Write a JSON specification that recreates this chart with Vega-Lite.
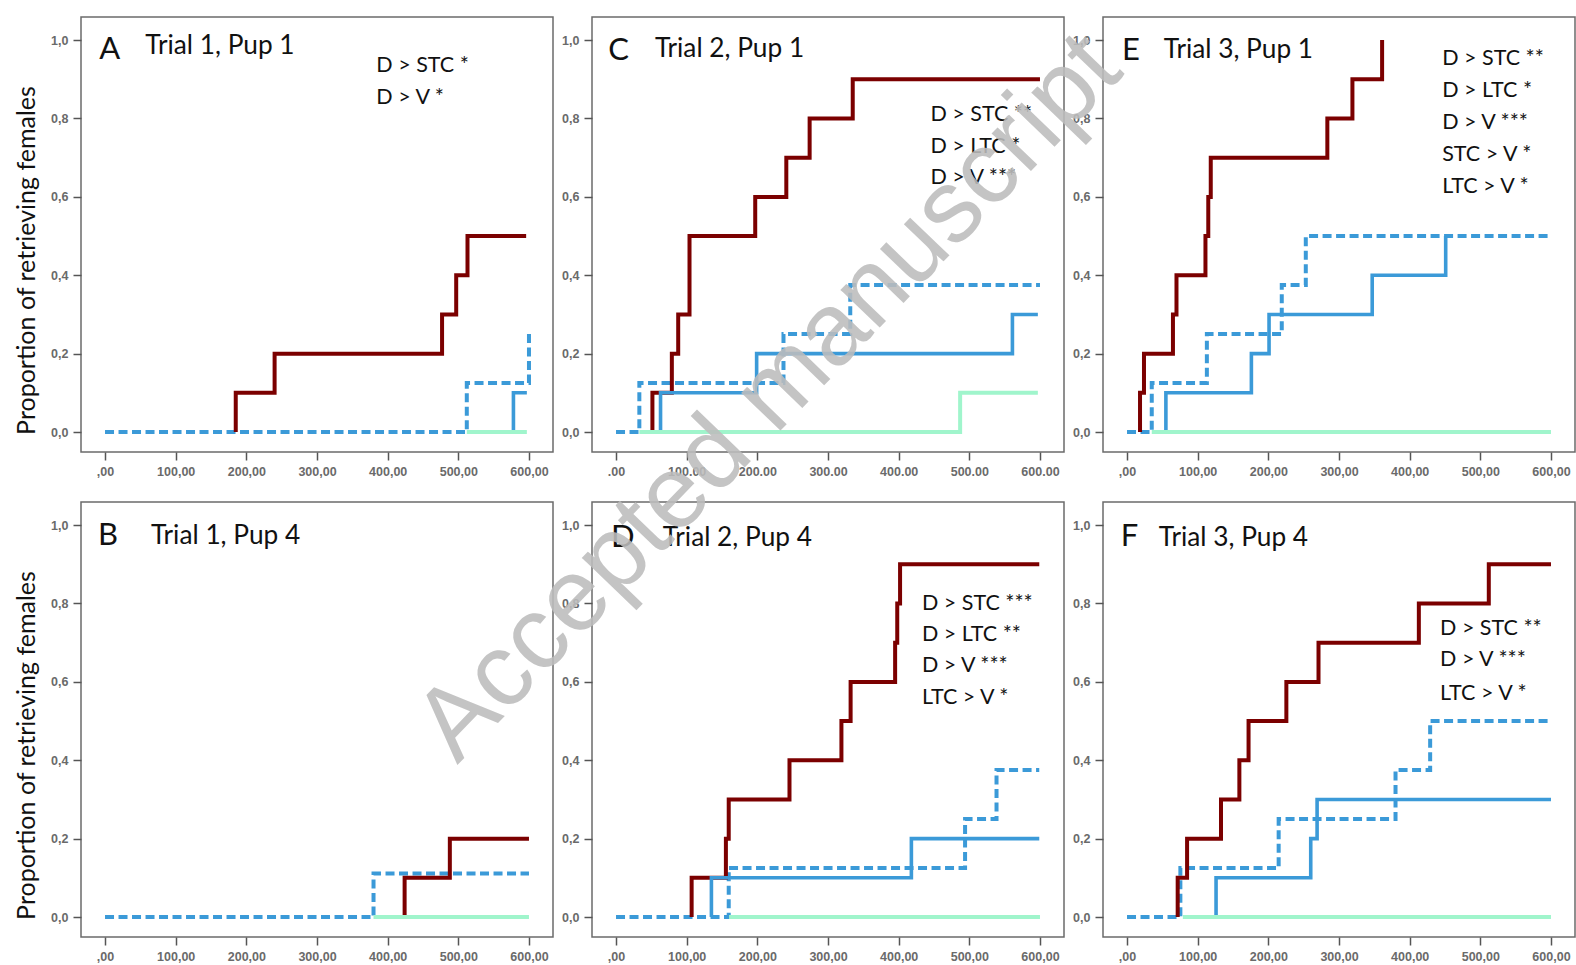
{
  "$schema": "https://vega.github.io/schema/vega-lite/v6.json",
  "padding": {"left": 13, "top": 15, "right": 0, "bottom": 0},
  "background": "white",
  "datasets": {
    "curves": [
      {"panel": "A", "group": "STC", "i": 0, "t": 0, "p": 0},
      {"panel": "A", "group": "STC", "i": 1, "t": 512, "p": 0.125},
      {"panel": "A", "group": "STC", "i": 2, "t": 600, "p": 0.25},
      {"panel": "A", "group": "D", "i": 0, "t": 185, "p": 0},
      {"panel": "A", "group": "D", "i": 1, "t": 185, "p": 0.1},
      {"panel": "A", "group": "D", "i": 2, "t": 240, "p": 0.2},
      {"panel": "A", "group": "D", "i": 3, "t": 477, "p": 0.3},
      {"panel": "A", "group": "D", "i": 4, "t": 497, "p": 0.4},
      {"panel": "A", "group": "D", "i": 5, "t": 513, "p": 0.5},
      {"panel": "A", "group": "D", "i": 6, "t": 596, "p": 0.5},
      {"panel": "A", "group": "LTC", "i": 0, "t": 578, "p": 0},
      {"panel": "A", "group": "LTC", "i": 1, "t": 578, "p": 0.1},
      {"panel": "A", "group": "LTC", "i": 2, "t": 597, "p": 0.1},
      {"panel": "A", "group": "V", "i": 0, "t": 512, "p": 0},
      {"panel": "A", "group": "V", "i": 1, "t": 597, "p": 0},

      {"panel": "C", "group": "STC", "i": 0, "t": 0, "p": 0},
      {"panel": "C", "group": "STC", "i": 1, "t": 33, "p": 0.125},
      {"panel": "C", "group": "STC", "i": 2, "t": 237, "p": 0.25},
      {"panel": "C", "group": "STC", "i": 3, "t": 331.5, "p": 0.375},
      {"panel": "C", "group": "STC", "i": 4, "t": 600, "p": 0.375},
      {"panel": "C", "group": "D", "i": 0, "t": 51.5, "p": 0},
      {"panel": "C", "group": "D", "i": 1, "t": 51.5, "p": 0.1},
      {"panel": "C", "group": "D", "i": 2, "t": 79, "p": 0.2},
      {"panel": "C", "group": "D", "i": 3, "t": 88, "p": 0.3},
      {"panel": "C", "group": "D", "i": 4, "t": 104, "p": 0.5},
      {"panel": "C", "group": "D", "i": 5, "t": 197, "p": 0.6},
      {"panel": "C", "group": "D", "i": 6, "t": 241, "p": 0.7},
      {"panel": "C", "group": "D", "i": 7, "t": 274, "p": 0.8},
      {"panel": "C", "group": "D", "i": 8, "t": 335, "p": 0.9},
      {"panel": "C", "group": "D", "i": 9, "t": 600, "p": 0.9},
      {"panel": "C", "group": "LTC", "i": 0, "t": 63, "p": 0},
      {"panel": "C", "group": "LTC", "i": 1, "t": 63, "p": 0.1},
      {"panel": "C", "group": "LTC", "i": 2, "t": 199, "p": 0.2},
      {"panel": "C", "group": "LTC", "i": 3, "t": 561, "p": 0.3},
      {"panel": "C", "group": "LTC", "i": 4, "t": 597, "p": 0.3},
      {"panel": "C", "group": "V", "i": 0, "t": 33, "p": 0},
      {"panel": "C", "group": "V", "i": 1, "t": 487, "p": 0.1},
      {"panel": "C", "group": "V", "i": 2, "t": 597, "p": 0.1},

      {"panel": "E", "group": "STC", "i": 0, "t": 0, "p": 0},
      {"panel": "E", "group": "STC", "i": 1, "t": 35, "p": 0.125},
      {"panel": "E", "group": "STC", "i": 2, "t": 113, "p": 0.25},
      {"panel": "E", "group": "STC", "i": 3, "t": 219, "p": 0.375},
      {"panel": "E", "group": "STC", "i": 4, "t": 253, "p": 0.5},
      {"panel": "E", "group": "STC", "i": 5, "t": 600, "p": 0.5},
      {"panel": "E", "group": "D", "i": 0, "t": 18.4, "p": 0},
      {"panel": "E", "group": "D", "i": 1, "t": 18.4, "p": 0.1},
      {"panel": "E", "group": "D", "i": 2, "t": 24, "p": 0.2},
      {"panel": "E", "group": "D", "i": 3, "t": 65, "p": 0.3},
      {"panel": "E", "group": "D", "i": 4, "t": 70, "p": 0.4},
      {"panel": "E", "group": "D", "i": 5, "t": 111, "p": 0.5},
      {"panel": "E", "group": "D", "i": 6, "t": 115, "p": 0.6},
      {"panel": "E", "group": "D", "i": 7, "t": 118.5, "p": 0.7},
      {"panel": "E", "group": "D", "i": 8, "t": 283.5, "p": 0.8},
      {"panel": "E", "group": "D", "i": 9, "t": 319, "p": 0.9},
      {"panel": "E", "group": "D", "i": 10, "t": 361, "p": 1.0},
      {"panel": "E", "group": "LTC", "i": 0, "t": 55, "p": 0},
      {"panel": "E", "group": "LTC", "i": 1, "t": 55, "p": 0.1},
      {"panel": "E", "group": "LTC", "i": 2, "t": 176, "p": 0.2},
      {"panel": "E", "group": "LTC", "i": 3, "t": 201, "p": 0.3},
      {"panel": "E", "group": "LTC", "i": 4, "t": 347, "p": 0.4},
      {"panel": "E", "group": "LTC", "i": 5, "t": 451, "p": 0.5},
      {"panel": "E", "group": "V", "i": 0, "t": 35, "p": 0},
      {"panel": "E", "group": "V", "i": 1, "t": 600, "p": 0},

      {"panel": "B", "group": "STC", "i": 0, "t": 0, "p": 0},
      {"panel": "B", "group": "STC", "i": 1, "t": 380, "p": 0.111},
      {"panel": "B", "group": "STC", "i": 2, "t": 600, "p": 0.111},
      {"panel": "B", "group": "D", "i": 0, "t": 424, "p": 0},
      {"panel": "B", "group": "D", "i": 1, "t": 424, "p": 0.1},
      {"panel": "B", "group": "D", "i": 2, "t": 488, "p": 0.2},
      {"panel": "B", "group": "D", "i": 3, "t": 600, "p": 0.2},
      {"panel": "B", "group": "V", "i": 0, "t": 380, "p": 0},
      {"panel": "B", "group": "V", "i": 1, "t": 600, "p": 0},

      {"panel": "D", "group": "STC", "i": 0, "t": 0, "p": 0},
      {"panel": "D", "group": "STC", "i": 1, "t": 159.5, "p": 0.125},
      {"panel": "D", "group": "STC", "i": 2, "t": 494, "p": 0.25},
      {"panel": "D", "group": "STC", "i": 3, "t": 538.5, "p": 0.375},
      {"panel": "D", "group": "STC", "i": 4, "t": 599, "p": 0.375},
      {"panel": "D", "group": "D", "i": 0, "t": 107, "p": 0},
      {"panel": "D", "group": "D", "i": 1, "t": 107, "p": 0.1},
      {"panel": "D", "group": "D", "i": 2, "t": 155.5, "p": 0.2},
      {"panel": "D", "group": "D", "i": 3, "t": 159.5, "p": 0.3},
      {"panel": "D", "group": "D", "i": 4, "t": 245.5, "p": 0.4},
      {"panel": "D", "group": "D", "i": 5, "t": 319, "p": 0.5},
      {"panel": "D", "group": "D", "i": 6, "t": 332, "p": 0.6},
      {"panel": "D", "group": "D", "i": 7, "t": 395, "p": 0.7},
      {"panel": "D", "group": "D", "i": 8, "t": 398, "p": 0.8},
      {"panel": "D", "group": "D", "i": 9, "t": 402, "p": 0.9},
      {"panel": "D", "group": "D", "i": 10, "t": 599, "p": 0.9},
      {"panel": "D", "group": "LTC", "i": 0, "t": 135, "p": 0},
      {"panel": "D", "group": "LTC", "i": 1, "t": 135, "p": 0.1},
      {"panel": "D", "group": "LTC", "i": 2, "t": 418, "p": 0.2},
      {"panel": "D", "group": "LTC", "i": 3, "t": 599, "p": 0.2},
      {"panel": "D", "group": "V", "i": 0, "t": 160, "p": 0},
      {"panel": "D", "group": "V", "i": 1, "t": 600, "p": 0},

      {"panel": "F", "group": "STC", "i": 0, "t": 0, "p": 0},
      {"panel": "F", "group": "STC", "i": 1, "t": 75.5, "p": 0.125},
      {"panel": "F", "group": "STC", "i": 2, "t": 214.6, "p": 0.25},
      {"panel": "F", "group": "STC", "i": 3, "t": 380, "p": 0.375},
      {"panel": "F", "group": "STC", "i": 4, "t": 429, "p": 0.5},
      {"panel": "F", "group": "STC", "i": 5, "t": 600, "p": 0.5},
      {"panel": "F", "group": "D", "i": 0, "t": 71.7, "p": 0},
      {"panel": "F", "group": "D", "i": 1, "t": 71.7, "p": 0.1},
      {"panel": "F", "group": "D", "i": 2, "t": 85, "p": 0.2},
      {"panel": "F", "group": "D", "i": 3, "t": 133, "p": 0.3},
      {"panel": "F", "group": "D", "i": 4, "t": 159, "p": 0.4},
      {"panel": "F", "group": "D", "i": 5, "t": 172, "p": 0.5},
      {"panel": "F", "group": "D", "i": 6, "t": 225.5, "p": 0.6},
      {"panel": "F", "group": "D", "i": 7, "t": 271, "p": 0.7},
      {"panel": "F", "group": "D", "i": 8, "t": 413, "p": 0.8},
      {"panel": "F", "group": "D", "i": 9, "t": 512, "p": 0.9},
      {"panel": "F", "group": "D", "i": 10, "t": 600, "p": 0.9},
      {"panel": "F", "group": "LTC", "i": 0, "t": 126, "p": 0},
      {"panel": "F", "group": "LTC", "i": 1, "t": 126, "p": 0.1},
      {"panel": "F", "group": "LTC", "i": 2, "t": 260, "p": 0.2},
      {"panel": "F", "group": "LTC", "i": 3, "t": 269, "p": 0.3},
      {"panel": "F", "group": "LTC", "i": 4, "t": 600, "p": 0.3},
      {"panel": "F", "group": "V", "i": 0, "t": 79, "p": 0},
      {"panel": "F", "group": "V", "i": 1, "t": 600, "p": 0}
    ],
    "notes": [
      {"panel": "A", "kind": "letter", "label": "A", "t": -8, "p": 0.952},
      {"panel": "A", "kind": "title", "label": "Trial 1, Pup 1", "t": 57, "p": 0.964},
      {"panel": "A", "kind": "note", "label": "D > STC *", "t": 384, "p": 0.918},
      {"panel": "A", "kind": "note", "label": "D > V *", "t": 384, "p": 0.837},

      {"panel": "C", "kind": "letter", "label": "C", "t": -11, "p": 0.95},
      {"panel": "C", "kind": "title", "label": "Trial 2, Pup 1", "t": 55, "p": 0.958},
      {"panel": "C", "kind": "note", "label": "D > STC **", "t": 445, "p": 0.793},
      {"panel": "C", "kind": "note", "label": "D > LTC *", "t": 445, "p": 0.712},
      {"panel": "C", "kind": "note", "label": "D > V ***", "t": 445, "p": 0.632},

      {"panel": "E", "kind": "letter", "label": "E", "t": -7, "p": 0.949},
      {"panel": "E", "kind": "title", "label": "Trial 3, Pup 1", "t": 52, "p": 0.955},
      {"panel": "E", "kind": "note", "label": "D > STC **", "t": 446, "p": 0.936},
      {"panel": "E", "kind": "note", "label": "D > LTC *", "t": 446, "p": 0.856},
      {"panel": "E", "kind": "note", "label": "D > V ***", "t": 446, "p": 0.772},
      {"panel": "E", "kind": "note", "label": "STC > V *", "t": 446, "p": 0.692},
      {"panel": "E", "kind": "note", "label": "LTC > V *", "t": 446, "p": 0.611},

      {"panel": "B", "kind": "letter", "label": "B", "t": -10, "p": 0.949},
      {"panel": "B", "kind": "title", "label": "Trial 1, Pup 4", "t": 65, "p": 0.951},

      {"panel": "D", "kind": "letter", "label": "D", "t": -7, "p": 0.945},
      {"panel": "D", "kind": "title", "label": "Trial 2, Pup 4", "t": 66, "p": 0.947},
      {"panel": "D", "kind": "note", "label": "D > STC ***", "t": 433, "p": 0.784},
      {"panel": "D", "kind": "note", "label": "D > LTC **", "t": 433, "p": 0.704},
      {"panel": "D", "kind": "note", "label": "D > V ***", "t": 433, "p": 0.624},
      {"panel": "D", "kind": "note", "label": "LTC > V *", "t": 433, "p": 0.543},

      {"panel": "F", "kind": "letter", "label": "F", "t": -9, "p": 0.947},
      {"panel": "F", "kind": "title", "label": "Trial 3, Pup 4", "t": 45, "p": 0.946},
      {"panel": "F", "kind": "note", "label": "D > STC **", "t": 443, "p": 0.72},
      {"panel": "F", "kind": "note", "label": "D > V ***", "t": 443, "p": 0.64},
      {"panel": "F", "kind": "note", "label": "LTC > V *", "t": 443, "p": 0.555}
    ],
    "stamp": [
      {"label": "Accepted manuscript", "t": 248, "p": 1.27}
    ]
  },
  "columns": 3,
  "spacing": {"row": 50, "column": 39},
  "bounds": "flush",
  "concat": [
    {
      "width": 472, "height": 435,
      "encoding": {
        "x": {"field": "t", "type": "quantitative", "scale": {"domain": [-34, 634], "nice": false, "zero": false},
              "axis": {"title": null, "values": [0, 100, 200, 300, 400, 500, 600], "labelExpr": "datum.value === 0 ? ',00' : replace(format(datum.value, '.2f'), '.', ',')"}},
        "y": {"field": "p", "type": "quantitative", "scale": {"domain": [-0.051, 1.059], "nice": false, "zero": false},
              "axis": {"title": "Proportion of retrieving females", "titleY": 243, "values": [0, 0.2, 0.4, 0.6, 0.8, 1], "labelExpr": "replace(format(datum.value, '.1f'), '.', ',')"}}
      },
      "layer": [
        {"data": {"name": "curves"}, "transform": [{"filter": "datum.panel === 'A' && datum.group === 'STC'"}],
         "mark": {"type": "line", "interpolate": "step-after", "color": "#3b9ad8", "strokeWidth": 4, "strokeDash": [9, 4.5]},
         "encoding": {"order": {"field": "i", "type": "quantitative"}}},
        {"data": {"name": "curves"}, "transform": [{"filter": "datum.panel === 'A' && datum.group === 'D'"}],
         "mark": {"type": "line", "interpolate": "step-after", "color": "#7b0000", "strokeWidth": 4},
         "encoding": {"order": {"field": "i", "type": "quantitative"}}},
        {"data": {"name": "curves"}, "transform": [{"filter": "datum.panel === 'A' && datum.group === 'LTC'"}],
         "mark": {"type": "line", "interpolate": "step-after", "color": "#3b9ad8", "strokeWidth": 3.6},
         "encoding": {"order": {"field": "i", "type": "quantitative"}}},
        {"data": {"name": "curves"}, "transform": [{"filter": "datum.panel === 'A' && datum.group === 'V'"}],
         "mark": {"type": "line", "interpolate": "step-after", "color": "#a0f5cc", "strokeWidth": 4},
         "encoding": {"order": {"field": "i", "type": "quantitative"}}},
        {"data": {"name": "notes"}, "transform": [{"filter": "datum.panel === 'A'"}],
         "mark": {"type": "text", "align": "left", "baseline": "alphabetic", "font": "Lato", "color": "#111"},
         "encoding": {"text": {"field": "label"}, "size": {"field": "kind", "type": "ordinal", "scale": {"domain": ["letter", "title", "note"], "range": [31, 21.5, 24]}, "legend": null}}}
      ]
    },
    {
      "width": 472, "height": 435,
      "encoding": {
        "x": {"field": "t", "type": "quantitative", "scale": {"domain": [-34, 634], "nice": false, "zero": false},
              "axis": {"title": null, "values": [0, 100, 200, 300, 400, 500, 600], "labelExpr": "datum.value === 0 ? '.00' : format(datum.value, '.2f')"}},
        "y": {"field": "p", "type": "quantitative", "scale": {"domain": [-0.051, 1.059], "nice": false, "zero": false},
              "axis": {"title": null, "values": [0, 0.2, 0.4, 0.6, 0.8, 1], "labelExpr": "replace(format(datum.value, '.1f'), '.', ',')"}}
      },
      "layer": [
        {"data": {"name": "curves"}, "transform": [{"filter": "datum.panel === 'C' && datum.group === 'STC'"}],
         "mark": {"type": "line", "interpolate": "step-after", "color": "#3b9ad8", "strokeWidth": 4, "strokeDash": [9, 4.5]},
         "encoding": {"order": {"field": "i", "type": "quantitative"}}},
        {"data": {"name": "curves"}, "transform": [{"filter": "datum.panel === 'C' && datum.group === 'D'"}],
         "mark": {"type": "line", "interpolate": "step-after", "color": "#7b0000", "strokeWidth": 4},
         "encoding": {"order": {"field": "i", "type": "quantitative"}}},
        {"data": {"name": "curves"}, "transform": [{"filter": "datum.panel === 'C' && datum.group === 'LTC'"}],
         "mark": {"type": "line", "interpolate": "step-after", "color": "#3b9ad8", "strokeWidth": 3.6},
         "encoding": {"order": {"field": "i", "type": "quantitative"}}},
        {"data": {"name": "curves"}, "transform": [{"filter": "datum.panel === 'C' && datum.group === 'V'"}],
         "mark": {"type": "line", "interpolate": "step-after", "color": "#a0f5cc", "strokeWidth": 4},
         "encoding": {"order": {"field": "i", "type": "quantitative"}}},
        {"data": {"name": "notes"}, "transform": [{"filter": "datum.panel === 'C'"}],
         "mark": {"type": "text", "align": "left", "baseline": "alphabetic", "font": "Lato", "color": "#111"},
         "encoding": {"text": {"field": "label"}, "size": {"field": "kind", "type": "ordinal", "scale": {"domain": ["letter", "title", "note"], "range": [31, 21.5, 24]}, "legend": null}}}
      ]
    },
    {
      "width": 472, "height": 435,
      "encoding": {
        "x": {"field": "t", "type": "quantitative", "scale": {"domain": [-34, 634], "nice": false, "zero": false},
              "axis": {"title": null, "values": [0, 100, 200, 300, 400, 500, 600], "labelExpr": "datum.value === 0 ? ',00' : replace(format(datum.value, '.2f'), '.', ',')"}},
        "y": {"field": "p", "type": "quantitative", "scale": {"domain": [-0.051, 1.059], "nice": false, "zero": false},
              "axis": {"title": null, "values": [0, 0.2, 0.4, 0.6, 0.8, 1], "labelExpr": "replace(format(datum.value, '.1f'), '.', ',')"}}
      },
      "layer": [
        {"data": {"name": "curves"}, "transform": [{"filter": "datum.panel === 'E' && datum.group === 'STC'"}],
         "mark": {"type": "line", "interpolate": "step-after", "color": "#3b9ad8", "strokeWidth": 4, "strokeDash": [9, 4.5]},
         "encoding": {"order": {"field": "i", "type": "quantitative"}}},
        {"data": {"name": "curves"}, "transform": [{"filter": "datum.panel === 'E' && datum.group === 'D'"}],
         "mark": {"type": "line", "interpolate": "step-after", "color": "#7b0000", "strokeWidth": 4},
         "encoding": {"order": {"field": "i", "type": "quantitative"}}},
        {"data": {"name": "curves"}, "transform": [{"filter": "datum.panel === 'E' && datum.group === 'LTC'"}],
         "mark": {"type": "line", "interpolate": "step-after", "color": "#3b9ad8", "strokeWidth": 3.6},
         "encoding": {"order": {"field": "i", "type": "quantitative"}}},
        {"data": {"name": "curves"}, "transform": [{"filter": "datum.panel === 'E' && datum.group === 'V'"}],
         "mark": {"type": "line", "interpolate": "step-after", "color": "#a0f5cc", "strokeWidth": 4},
         "encoding": {"order": {"field": "i", "type": "quantitative"}}},
        {"data": {"name": "notes"}, "transform": [{"filter": "datum.panel === 'E'"}],
         "mark": {"type": "text", "align": "left", "baseline": "alphabetic", "font": "Lato", "color": "#111"},
         "encoding": {"text": {"field": "label"}, "size": {"field": "kind", "type": "ordinal", "scale": {"domain": ["letter", "title", "note"], "range": [31, 21.5, 24]}, "legend": null}}}
      ]
    },
    {
      "width": 472, "height": 435,
      "encoding": {
        "x": {"field": "t", "type": "quantitative", "scale": {"domain": [-34, 634], "nice": false, "zero": false},
              "axis": {"title": null, "values": [0, 100, 200, 300, 400, 500, 600], "labelExpr": "datum.value === 0 ? ',00' : replace(format(datum.value, '.2f'), '.', ',')"}},
        "y": {"field": "p", "type": "quantitative", "scale": {"domain": [-0.051, 1.059], "nice": false, "zero": false},
              "axis": {"title": "Proportion of retrieving females", "titleY": 243, "values": [0, 0.2, 0.4, 0.6, 0.8, 1], "labelExpr": "replace(format(datum.value, '.1f'), '.', ',')"}}
      },
      "layer": [
        {"data": {"name": "curves"}, "transform": [{"filter": "datum.panel === 'B' && datum.group === 'STC'"}],
         "mark": {"type": "line", "interpolate": "step-after", "color": "#3b9ad8", "strokeWidth": 4, "strokeDash": [9, 4.5]},
         "encoding": {"order": {"field": "i", "type": "quantitative"}}},
        {"data": {"name": "curves"}, "transform": [{"filter": "datum.panel === 'B' && datum.group === 'D'"}],
         "mark": {"type": "line", "interpolate": "step-after", "color": "#7b0000", "strokeWidth": 4},
         "encoding": {"order": {"field": "i", "type": "quantitative"}}},
        {"data": {"name": "curves"}, "transform": [{"filter": "datum.panel === 'B' && datum.group === 'V'"}],
         "mark": {"type": "line", "interpolate": "step-after", "color": "#a0f5cc", "strokeWidth": 4},
         "encoding": {"order": {"field": "i", "type": "quantitative"}}},
        {"data": {"name": "notes"}, "transform": [{"filter": "datum.panel === 'B'"}],
         "mark": {"type": "text", "align": "left", "baseline": "alphabetic", "font": "Lato", "color": "#111"},
         "encoding": {"text": {"field": "label"}, "size": {"field": "kind", "type": "ordinal", "scale": {"domain": ["letter", "title", "note"], "range": [31, 21.5, 24]}, "legend": null}}}
      ]
    },
    {
      "width": 472, "height": 435,
      "encoding": {
        "x": {"field": "t", "type": "quantitative", "scale": {"domain": [-34, 634], "nice": false, "zero": false},
              "axis": {"title": null, "values": [0, 100, 200, 300, 400, 500, 600], "labelExpr": "datum.value === 0 ? ',00' : replace(format(datum.value, '.2f'), '.', ',')"}},
        "y": {"field": "p", "type": "quantitative", "scale": {"domain": [-0.051, 1.059], "nice": false, "zero": false},
              "axis": {"title": null, "values": [0, 0.2, 0.4, 0.6, 0.8, 1], "labelExpr": "replace(format(datum.value, '.1f'), '.', ',')"}}
      },
      "layer": [
        {"data": {"name": "curves"}, "transform": [{"filter": "datum.panel === 'D' && datum.group === 'STC'"}],
         "mark": {"type": "line", "interpolate": "step-after", "color": "#3b9ad8", "strokeWidth": 4, "strokeDash": [9, 4.5]},
         "encoding": {"order": {"field": "i", "type": "quantitative"}}},
        {"data": {"name": "curves"}, "transform": [{"filter": "datum.panel === 'D' && datum.group === 'D'"}],
         "mark": {"type": "line", "interpolate": "step-after", "color": "#7b0000", "strokeWidth": 4},
         "encoding": {"order": {"field": "i", "type": "quantitative"}}},
        {"data": {"name": "curves"}, "transform": [{"filter": "datum.panel === 'D' && datum.group === 'LTC'"}],
         "mark": {"type": "line", "interpolate": "step-after", "color": "#3b9ad8", "strokeWidth": 3.6},
         "encoding": {"order": {"field": "i", "type": "quantitative"}}},
        {"data": {"name": "curves"}, "transform": [{"filter": "datum.panel === 'D' && datum.group === 'V'"}],
         "mark": {"type": "line", "interpolate": "step-after", "color": "#a0f5cc", "strokeWidth": 4},
         "encoding": {"order": {"field": "i", "type": "quantitative"}}},
        {"data": {"name": "notes"}, "transform": [{"filter": "datum.panel === 'D'"}],
         "mark": {"type": "text", "align": "left", "baseline": "alphabetic", "font": "Lato", "color": "#111"},
         "encoding": {"text": {"field": "label"}, "size": {"field": "kind", "type": "ordinal", "scale": {"domain": ["letter", "title", "note"], "range": [31, 21.5, 24]}, "legend": null}}},
        {"data": {"name": "stamp"},
         "mark": {"type": "text", "align": "center", "baseline": "alphabetic", "angle": -46, "font": "Liberation Sans", "fontSize": 103, "color": "#bdbdbd", "opacity": 0.88},
         "encoding": {"text": {"field": "label"}}}
      ]
    },
    {
      "width": 472, "height": 435,
      "encoding": {
        "x": {"field": "t", "type": "quantitative", "scale": {"domain": [-34, 634], "nice": false, "zero": false},
              "axis": {"title": null, "values": [0, 100, 200, 300, 400, 500, 600], "labelExpr": "datum.value === 0 ? ',00' : replace(format(datum.value, '.2f'), '.', ',')"}},
        "y": {"field": "p", "type": "quantitative", "scale": {"domain": [-0.051, 1.059], "nice": false, "zero": false},
              "axis": {"title": null, "values": [0, 0.2, 0.4, 0.6, 0.8, 1], "labelExpr": "replace(format(datum.value, '.1f'), '.', ',')"}}
      },
      "layer": [
        {"data": {"name": "curves"}, "transform": [{"filter": "datum.panel === 'F' && datum.group === 'STC'"}],
         "mark": {"type": "line", "interpolate": "step-after", "color": "#3b9ad8", "strokeWidth": 4, "strokeDash": [9, 4.5]},
         "encoding": {"order": {"field": "i", "type": "quantitative"}}},
        {"data": {"name": "curves"}, "transform": [{"filter": "datum.panel === 'F' && datum.group === 'D'"}],
         "mark": {"type": "line", "interpolate": "step-after", "color": "#7b0000", "strokeWidth": 4},
         "encoding": {"order": {"field": "i", "type": "quantitative"}}},
        {"data": {"name": "curves"}, "transform": [{"filter": "datum.panel === 'F' && datum.group === 'LTC'"}],
         "mark": {"type": "line", "interpolate": "step-after", "color": "#3b9ad8", "strokeWidth": 3.6},
         "encoding": {"order": {"field": "i", "type": "quantitative"}}},
        {"data": {"name": "curves"}, "transform": [{"filter": "datum.panel === 'F' && datum.group === 'V'"}],
         "mark": {"type": "line", "interpolate": "step-after", "color": "#a0f5cc", "strokeWidth": 4},
         "encoding": {"order": {"field": "i", "type": "quantitative"}}},
        {"data": {"name": "notes"}, "transform": [{"filter": "datum.panel === 'F'"}],
         "mark": {"type": "text", "align": "left", "baseline": "alphabetic", "font": "Lato", "color": "#111"},
         "encoding": {"text": {"field": "label"}, "size": {"field": "kind", "type": "ordinal", "scale": {"domain": ["letter", "title", "note"], "range": [31, 21.5, 24]}, "legend": null}}}
      ]
    }
  ],
  "config": {
    "view": {"stroke": "#6b6b6b", "strokeWidth": 1.5},
    "axis": {
      "domain": false, "grid": false,
      "tickColor": "#555", "tickWidth": 1.5, "tickSize": 8,
      "labelFont": "Liberation Sans", "labelFontSize": 12.5, "labelFontWeight": "bold", "labelColor": "#6a6a6a", "labelPadding": 5,
      "titleFont": "Lato", "titleFontSize": 25, "titleFontWeight": "normal", "titleColor": "#111", "titlePadding": 11
    }
  }
}
